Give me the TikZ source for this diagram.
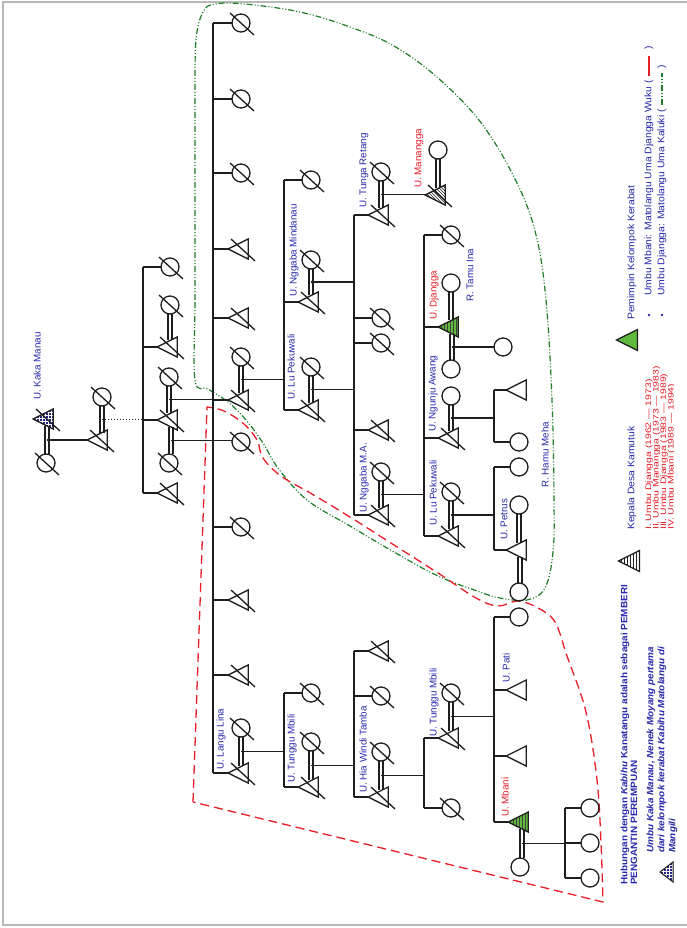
\documentclass[tikz,border=0pt]{standalone}
\usepackage{fontspec}
\setmainfont{Liberation Sans}
\newfontfamily\lgf[FakeStretch=1.08]{Liberation Sans}
\newfontfamily\reignf[FakeStretch=1.3]{Liberation Sans}
\usetikzlibrary{shapes.geometric,patterns,calc}

\definecolor{lblblue}{RGB}{40,40,170}
\definecolor{lblred}{RGB}{232,30,40}
\definecolor{dgreen}{RGB}{30,125,40}
\definecolor{tgreen}{RGB}{95,185,60}
\definecolor{navyb}{RGB}{35,35,130}
\definecolor{ink}{RGB}{30,30,30}

\tikzset{
  tree/.style={draw=ink, line width=1.3pt},
  fem/.style={circle, draw=ink, line width=1.3pt, minimum size=18pt, inner sep=0pt, outer sep=0pt},
  mal/.style={isosceles triangle, isosceles triangle stretches, shape border rotate=180,
    minimum width=20pt, minimum height=20pt, inner sep=0pt, outer sep=0pt, draw=ink, line width=1.3pt},
  lbl/.style={rotate=90, anchor=west, inner sep=0pt, text=lblblue, font=\fontsize{9.8}{10}\selectfont},
  redlbl/.style={lbl, text=lblred},
  lg/.style={rotate=90, anchor=west, inner sep=0pt, text=lblblue, font=\lgf\fontsize{9.6}{9.6}\selectfont},
  reign/.style={rotate=90, anchor=west, inner sep=0pt, text=lblred, font=\reignf\fontsize{8}{8}\selectfont},
  lgb/.style={rotate=90, anchor=west, inner sep=0pt, text=lblblue, font=\lgf\bfseries\fontsize{9.2}{9.2}\selectfont},
  lgi/.style={lgb, font=\lgf\bfseries\itshape\fontsize{9.2}{9.2}\selectfont},
  wuku/.style={draw=lblred, line width=1.3pt, dash pattern=on 9pt off 5pt},
  kaluki/.style={draw=dgreen, line width=1.2pt, dash pattern=on 6pt off 2pt on 1pt off 2pt on 1pt off 2pt},
}

% slash across a deceased person
\newcommand\dead[1]{\draw[tree] ($(#1.center)+(-11,-10)$) -- ($(#1.center)+(13,12)$);}
% double marriage line from the upper to the lower partner; #3 names its midpoint
\newcommand\marry[3]{%
  \draw[tree] ($(#1.south)+(-2,0)$) -- ($(#1.south |- #2.north)+(-2,0)$);
  \draw[tree] ($(#1.south)+(2,0)$) -- ($(#1.south |- #2.north)+(2,0)$);
  \coordinate (#3) at ($(#1.south)!0.5!(#1.south |- #2.north)$);}
% stub from a sibling bar to a child
\newcommand\kid[2]{\draw[tree] (#2.west) -- (#2.west -| #1);}

\begin{document}
\begin{tikzpicture}[x=1pt,y=-1pt]
\useasboundingbox (0,0) rectangle (687,928);
\fill[white] (0,0) rectangle (687,928);
\draw[gray!55, line width=1.6pt] (700,2) -- (3,2) -- (3,925) -- (700,925);

% kin group boundaries
\draw[kaluki] plot[smooth cycle, tension=0.6] coordinates {(195,380) (195,300) (195,200) (195,100) (196,40) (203,12) (215,4) (245,4) (300,12) (350,27) (394,46) (438,78) (482,124) (517,183) (536,235) (546,300) (552,400) (554,500) (553,552) (545,588) (527,600) (500,598) (480,592) (438,576) (394,552) (350,526) (307,500) (278,468) (263,443) (246,420) (228,402) (208,389)};
\draw[wuku] (193,802) -- (207,407) -- plot[smooth, tension=0.6] coordinates {(207,407) (224,411) (244,424) (257,440) (263,458) (281,476) (312,494) (350,517) (394,545) (438,573) (476,598) (498,606) (518,601) (538,608) (555,622) (567,656) (586,712) (597,780) (601,843) (603,902)} -- cycle;

% generation 0
\node[mal, preaction={fill=navyb}, pattern=grid, pattern color=white] (kaka) at (47,419) {}; \dead{kaka}
\node[fem] (kakaw) at (46,463) {}; \dead{kakaw}
\marry{kaka}{kakaw}{mk}
\node[lbl] at (37,400) {U. Kaka Manau};
\node[mal] (g0b) at (101,440) {}; \dead{g0b}
\node[fem] (g0bw) at (102,397) {}; \dead{g0bw}
\draw[tree] (mk) -- (mk -| g0b.west);
\marry{g0bw}{g0b}{m0b}
\coordinate (b1) at (143,0);
\draw[ink, line width=1pt, dash pattern=on 1pt off 2pt] (m0b) -- (m0b -| b1);

% generation 1
\node[fem] (g1a) at (170,267) {}; \dead{g1a}
\node[fem] (g1bw) at (170,305) {}; \dead{g1bw}
\node[mal] (g1b) at (171,347) {}; \dead{g1b}
\node[fem] (g1cw) at (169,377) {}; \dead{g1cw}
\node[mal] (g1c) at (171,420) {}; \dead{g1c}
\node[fem] (g1cv) at (169,463) {}; \dead{g1cv}
\node[mal] (g1d) at (171,493) {}; \dead{g1d}
\draw[tree] (g1a.west -| b1) -- (g1d.west -| b1);
\foreach \n in {g1a,g1b,g1c,g1d}{\kid{b1}{\n}}
\marry{g1bw}{g1b}{m1b}
\marry{g1cw}{g1c}{m1c}
\marry{g1c}{g1cv}{m1cv}

% generation 2
\coordinate (b2) at (213,0);
\foreach \n/\y in {g2a/23,g2b/99,g2c/173,g2fw/357,g2g/442,g2h/527,g2kw/728}{\node[fem] (\n) at (241,\y) {}; \dead{\n}}
\foreach \n/\y in {g2d/249,g2e/318,g2f/400,g2i/600,g2j/675,g2k/773}{\node[mal] (\n) at (242,\y) {}; \dead{\n}}
\draw[tree] (g2a.west -| b2) -- (g2k.west -| b2);
\foreach \n in {g2a,g2b,g2c,g2d,g2e,g2f,g2h,g2i,g2j,g2k}{\kid{b2}{\n}}
\draw[tree] (m1c) -- (m1c -| b2);
\draw[tree] (m1cv) -- (m1cv -| g2g.west);
\marry{g2fw}{g2f}{m2f}
\marry{g2kw}{g2k}{m2k}
\node[lbl] at (221,770) {U. Langu Lina};

% generation 3
\coordinate (b3) at (284,0);
\foreach \n/\y in {g3a/180,g3bw/260,g3cw/367,g3d/693,g3ew/742}{\node[fem] (\n) at (311,\y) {}; \dead{\n}}
\foreach \n/\y in {g3b/302,g3c/410,g3e/787}{\node[mal] (\n) at (312,\y) {}; \dead{\n}}
\draw[tree] (g3a.west -| b3) -- (g3c.west -| b3);
\draw[tree] (g3d.west -| b3) -- (g3e.west -| b3);
\foreach \n in {g3a,g3b,g3c,g3d,g3e}{\kid{b3}{\n}}
\draw[tree] (m2f) -- (m2f -| b3);
\draw[tree] (m2k) -- (m2k -| b3);
\marry{g3bw}{g3b}{m3b}
\marry{g3cw}{g3c}{m3c}
\marry{g3ew}{g3e}{m3e}
\node[lbl] at (294,297) {U. Nggaba Mindanau};
\node[lbl] at (291,400) {U. Lu Pekuwali};
\node[lbl] at (292,783) {U. Tunggu Mbili};

% generation 4
\coordinate (b4) at (354,0);
\foreach \n/\y in {g4aw/172,g4b/318,g4c/343,g4ew/472,g4g/696,g4hw/752}{\node[fem] (\n) at (381,\y) {}; \dead{\n}}
\foreach \n/\y in {g4a/215,g4d/430,g4e/515,g4f/651,g4h/797}{\node[mal] (\n) at (382,\y) {}; \dead{\n}}
\draw[tree] (g4a.west -| b4) -- (g4e.west -| b4);
\draw[tree] (g4f.west -| b4) -- (g4h.west -| b4);
\foreach \n in {g4a,g4b,g4c,g4d,g4e,g4f,g4g,g4h}{\kid{b4}{\n}}
\draw[tree] (m3b) -- (m3b -| b4);
\draw[tree] (m3c) -- (m3c -| b4);
\draw[tree] (m3e) -- (m3e -| b4);
\marry{g4aw}{g4a}{m4a}
\marry{g4ew}{g4e}{m4e}
\marry{g4hw}{g4h}{m4h}
\node[lbl] at (364,208) {U. Tunga Retang};
\node[lbl] at (364,513) {U. Nggaba M.A.};
\node[lbl] at (363,793) {U. Hia Windi Tamba};

% U. Manangga
\node[fem] (mngw) at (438,150) {};
\node[mal, pattern=north west lines, pattern color=ink] (mng) at (439,195) {}; \dead{mng}
\marry{mngw}{mng}{mmn}
\draw[tree] (m4a) -- (m4a -| mng.west);
\node[redlbl] at (419,188) {U. Manangga};

% generation 5
\coordinate (b5) at (424,0);
\node[fem] (g5a) at (451,235) {}; \dead{g5a}
\node[fem] (djw1) at (451,283) {};
\node[mal, preaction={fill=tgreen}, pattern=vertical lines, pattern color=black!75] (dj) at (452,327) {};
\node[fem] (djw2) at (451,369) {};
\node[fem] (g5cw) at (451,396) {};
\node[mal] (g5c) at (452,438) {}; \dead{g5c}
\node[fem] (g5dw) at (451,492) {}; \dead{g5dw}
\node[mal] (g5d) at (452,536) {}; \dead{g5d}
\node[fem] (g5ew) at (451,693) {}; \dead{g5ew}
\node[mal] (g5e) at (452,738) {}; \dead{g5e}
\node[fem] (g5f) at (451,808) {}; \dead{g5f}
\draw[tree] (g5a.west -| b5) -- (g5d.west -| b5);
\draw[tree] (g5e.west -| b5) -- (g5f.west -| b5);
\foreach \n in {g5a,dj,g5c,g5d,g5e,g5f}{\kid{b5}{\n}}
\draw[tree] (m4e) -- (m4e -| b5);
\draw[tree] (m4h) -- (m4h -| b5);
\marry{djw1}{dj}{mdj1}
\marry{dj}{djw2}{mdj2}
\marry{g5cw}{g5c}{m5c}
\marry{g5dw}{g5d}{m5d}
\marry{g5ew}{g5e}{m5e}
\node[redlbl] at (434,320) {U. Djangga};
\node[lbl] at (470,302) {R. Tamu Ina};
\node[lbl] at (433,432) {U. Ngunju Awang};
\node[lbl] at (433,526) {U. Lu Pekuwali};
\node[lbl] at (434,737) {U. Tunggu Mbili};

% generation 6
\coordinate (b6) at (494,0);
\node[fem] (djc) at (503,347) {};
\draw[tree] (mdj2) -- (mdj2 -| djc.west);
\node[mal] (g6a) at (520,390) {};
\node[fem] (g6b) at (519,442) {};
\node[fem] (g6c) at (519,467) {};
\node[fem] (petw1) at (519,505) {};
\node[mal] (pet) at (520,550) {};
\node[fem] (petw2) at (519,592) {};
\node[fem] (g6d) at (519,617) {};
\node[mal] (g6e) at (520,690) {};
\node[mal] (g6f) at (520,756) {};
\node[mal, preaction={fill=tgreen}, pattern=vertical lines, pattern color=black!75] (mb) at (522,822) {};
\node[fem] (mbw) at (520,867) {};
\draw[tree] (g6a.west -| b6) -- (g6b.west -| b6);
\draw[tree] (g6c.west -| b6) -- (pet.west -| b6);
\draw[tree] (g6d.west -| b6) -- (mb.west -| b6);
\foreach \n in {g6a,g6b,g6c,pet,g6d,g6e,g6f,mb}{\kid{b6}{\n}}
\draw[tree] (m5c) -- (m5c -| b6);
\draw[tree] (m5d) -- (m5d -| b6);
\draw[tree] (m5e) -- (m5e -| b6);
\marry{petw1}{pet}{mp1}
\marry{pet}{petw2}{mp2}
\marry{mb}{mbw}{mmb}
\node[lbl] at (545,488) {R. Hamu Meha};
\node[lbl] at (504,540) {U. Petrus};
\node[lbl] at (506,683) {U. Pati};
\node[redlbl] at (505,817) {U. Mbani};

% generation 7
\coordinate (b7) at (565,0);
\foreach \n/\y in {g7a/808,g7b/843,g7c/878}{\node[fem] (\n) at (590,\y) {};}
\draw[tree] (g7a.west -| b7) -- (g7c.west -| b7);
\foreach \n in {g7a,g7b,g7c}{\kid{b7}{\n}}
\draw[tree] (mmb) -- (mmb -| b7);

% legend
\node[mal, minimum width=21pt, minimum height=21pt, fill=tgreen] (lgG) at (631,340) {};
\node[lg] (lgGt) at (632,320) {Pemimpin Kelompok Kerabat};
\node[circle, fill=lblblue, inner sep=0pt, minimum size=2.6pt] (bu1) at (649,315) {};
\node[circle, fill=lblblue, inner sep=0pt, minimum size=2.6pt] (bu2) at (662,315) {};
\node[lg] (lg1) at (649,296) {Umbu Mbani: Matolangu Uma Djangga Wuku (};
\draw[draw=lblred, line width=1.3pt] ($(lg1.east)+(0,-4)$) -- ($(lg1.east)+(0,-24)$);
\node[lg] (lg1c) at ($(lg1.east)+(0,-30)$) {)};
\node[lg] (lg2) at (662,296) {Umbu Djangga: Matolangu Uma Kaluki (};
\draw[kaluki] ($(lg2.east)+(0,-4)$) -- ($(lg2.east)+(0,-36)$);
\node[lg] (lg2c) at ($(lg2.east)+(0,-40)$) {)};

\node[mal, minimum width=21pt, minimum height=21pt, pattern=vertical lines, pattern color=ink] (lgK) at (633,561) {};
\node[lg] (lgKt) at (632,530) {Kepala Desa Kamutuk};
\node[reign] (k1) at (649,530) {I. Umbu Djangga (1962 — 1973)};
\node[reign] (k2) at (656.5,530) {II. Umbu Manangga (1973 — 1983)};
\node[reign] (k3) at (664,530) {III. Umbu Djangga (1983 — 1989)};
\begin{scope}
  \clip (0,0) rectangle (673.5,928);
  \node[reign] (k4) at (671.5,530) {IV. Umbu Mbani (1989 — 1994)};
\end{scope}

\node[lgb] (h1) at (625,885) {Hubungan dengan \textit{Kabihu} Kanatangu adalah sebagai PEMBERI};
\node[lgb] (h2) at (634,885) {PENGANTIN PEREMPUAN};
\node[lgi] (h3) at (651,853) {Umbu Kaka Manau, Nenek Moyang pertama};
\node[lgi] (h4) at (662,853) {dari kelompok kerabat Kabihu Matolangu di};
\node[lgi] (h5) at (673,853) {Mangili};
\path[draw=ink, line width=1pt, preaction={fill=navyb}, pattern=grid, pattern color=white] (660,872) -- (673,862) -- (673,882) -- cycle;
\end{tikzpicture}
\end{document}
